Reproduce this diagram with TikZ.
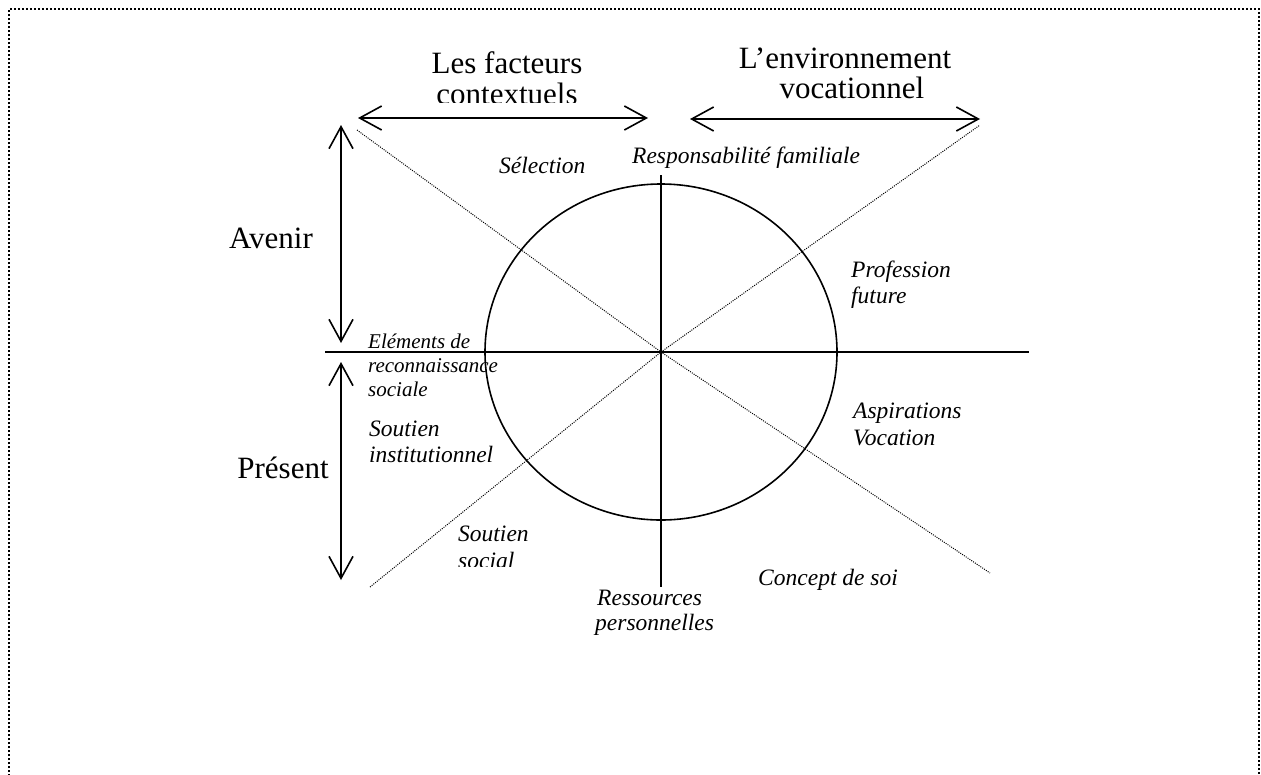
\documentclass[tikz,border=0pt]{standalone}
\usepackage{fontspec}
\setmainfont{Liberation Serif}
\usetikzlibrary{arrows.meta,shapes.geometric}
\begin{document}
\begin{tikzpicture}[x=1pt,y=-1pt,
  big/.style={font=\fontsize{31}{31}\selectfont, inner sep=0pt, anchor=base},
  lab/.style={font=\fontsize{23.5}{23.5}\selectfont\itshape, inner sep=0pt, anchor=base west},
  labs/.style={font=\fontsize{21}{21}\selectfont\itshape, inner sep=0pt, anchor=base west},
  solid line/.style={line width=1.6pt},
  dual/.style={line width=1.6pt, {Straight Barb[length=22pt,width=24pt]}-{Straight Barb[length=22pt,width=24pt]}},
  diag/.style={line width=1pt, dash pattern=on 1pt off 1.2pt},
  frame/.style={line width=2pt, dash pattern=on 2pt off 2pt}
]
\useasboundingbox (0,0) rectangle (1261,774);
% frame
\draw[frame] (9,780) -- (9,9) -- (1259,9) -- (1259,780);

% center and key coordinates
\coordinate (O) at (661,352);
\coordinate (d1a) at (357,130);
\coordinate (d1b) at (990,573);
\coordinate (d2a) at (370,587);
\coordinate (d2b) at (980,125);
\coordinate (hl) at (325,352);
\coordinate (hr) at (1029,352);
\coordinate (vt) at (661,175);
\coordinate (vb) at (661,587);

% ellipse
\node[draw, line width=1.6pt, ellipse, minimum width=352pt, minimum height=336pt, inner sep=0pt, outer sep=0pt] (circ) at (O) {};

% axes
\draw[solid line] (hl) -- (hr);
\draw[solid line] (vt) -- (vb);

% diagonals
\draw[diag] (d1a) -- (O) -- (d1b);
\draw[diag] (d2a) -- (O) -- (d2b);

% top arrows
\coordinate (a1l) at (358,118);
\coordinate (a1r) at (648,118);
\coordinate (a2l) at (690,119);
\coordinate (a2r) at (980,119);
\draw[dual] (a1l) -- (a1r);
\draw[dual] (a2l) -- (a2r);

% vertical arrows
\coordinate (av1) at (341,125);
\coordinate (av2) at (341,343);
\coordinate (pr1) at (341,362);
\coordinate (pr2) at (341,580);
\draw[dual] (av1) -- (av2);
\draw[dual] (pr1) -- (pr2);

% big labels
\node[big] (lf1) at (507,73) {Les facteurs};
\begin{scope}
\clip (400,80) rectangle (620,102.5);
\node[big] (lf2) at (507,104) {contextuels};
\end{scope}
\node[big] (le1) at (845,68) {L’environnement};
\node[big] (le2) at (852,98) {vocationnel};
\node[big] (avenir) at (271,248) {Avenir};
\node[big] (present) at (283,478) {Présent};

% italic labels
\node[lab] (sel) at (499,173) {Sélection};
\node[lab] (resp) at (632,163) {Responsabilité familiale};
\node[lab] (prof1) at (851,277) {Profession};
\node[lab] (prof2) at (851,303) {future};
\node[labs] (el1) at (368,348) {Eléments de};
\node[labs] (el2) at (368,372) {reconnaissance};
\node[labs] (el3) at (368,396) {sociale};
\node[lab] (si1) at (369,436) {Soutien};
\node[lab] (si2) at (369,462) {institutionnel};
\node[lab] (asp1) at (853,418) {Aspirations};
\node[lab] (asp2) at (853,445) {Vocation};
\node[lab] (ss1) at (458,541) {Soutien};
\begin{scope}
\clip (440,545) rectangle (600,566.5);
\node[lab] (ss2) at (458,568) {social};
\end{scope}
\node[lab] (cs) at (758,585) {Concept de soi};
\node[lab] (rp1) at (597,605) {Ressources};
\node[lab] (rp2) at (595,630) {personnelles};
\end{tikzpicture}
\end{document}
